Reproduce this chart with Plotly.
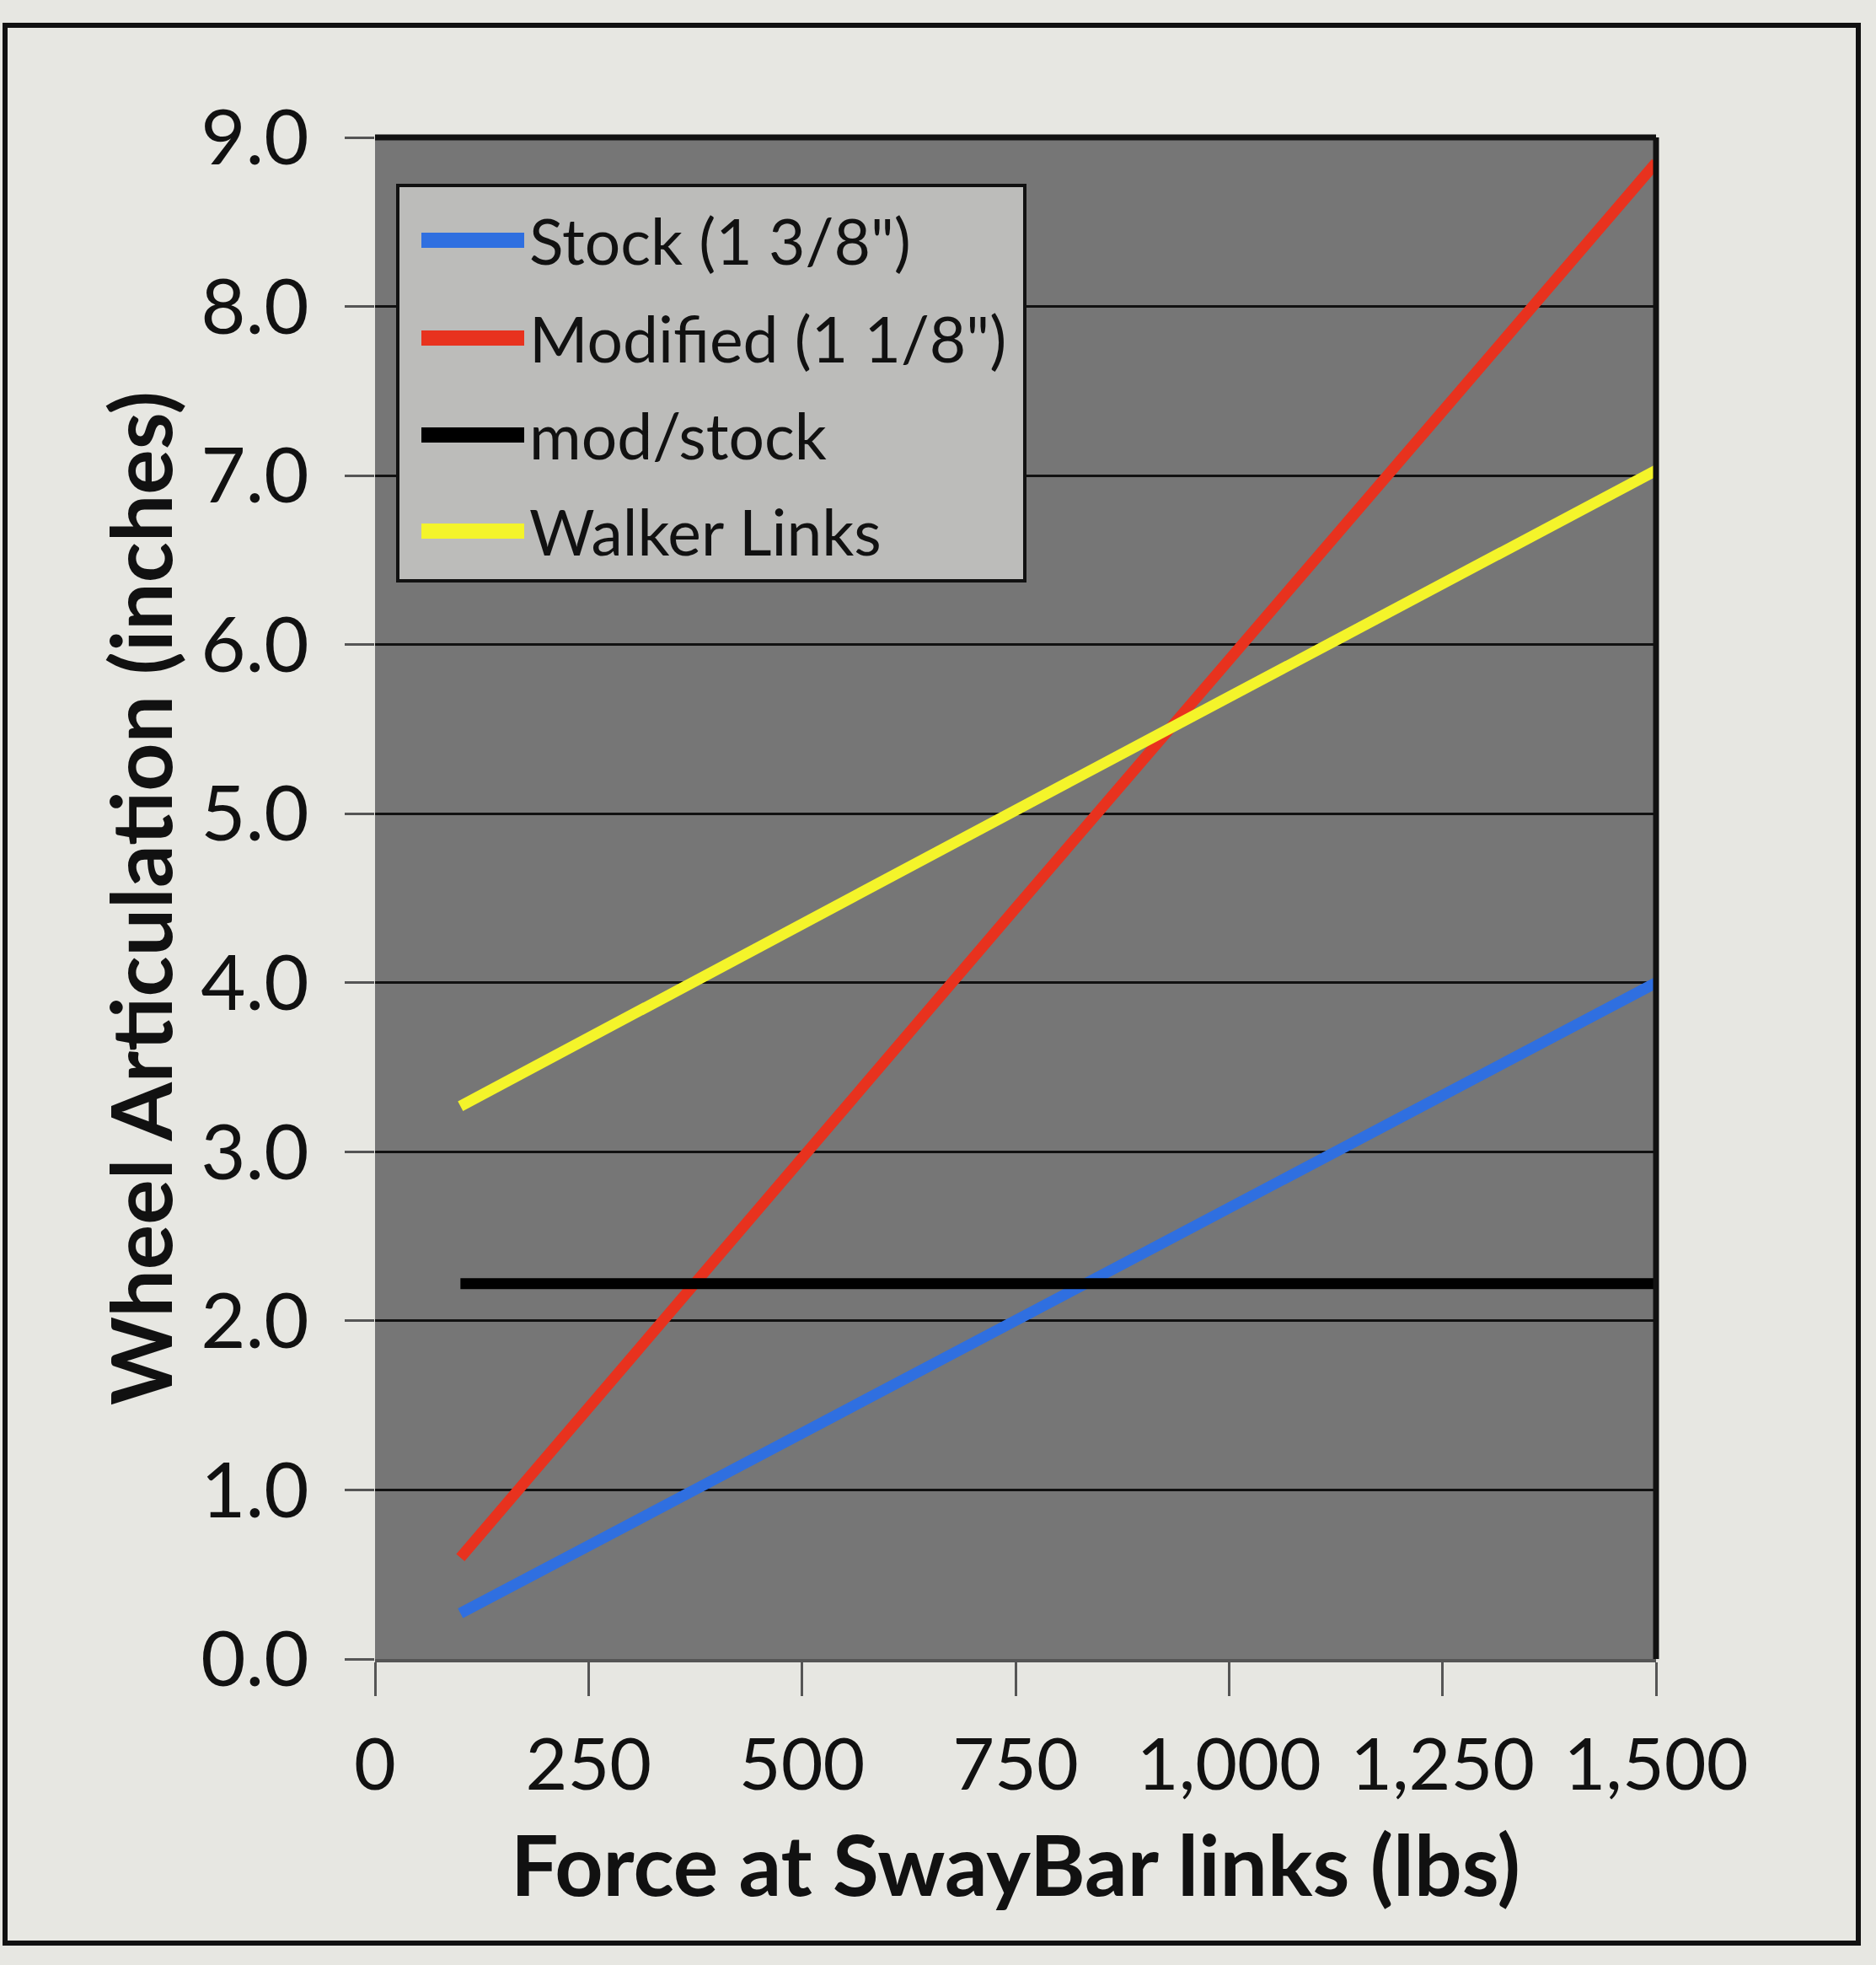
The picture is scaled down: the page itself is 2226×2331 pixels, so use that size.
import plotly.graph_objects as go

force_lbs = [100, 250, 500, 750, 1000, 1250, 1500]
stock = [0.27, 0.67, 1.34, 2.01, 2.68, 3.34, 4.00]
modified = [0.60, 1.49, 2.96, 4.44, 5.91, 7.38, 8.85]
mod_stock = [2.22, 2.22, 2.22, 2.22, 2.22, 2.22, 2.22]
walker = [3.27, 3.67, 4.34, 5.02, 5.69, 6.36, 7.03]

series_names = ["Stock (1 3/8\")", "Modified (1 1/8\")", "mod/stock", "Walker Links"]
series_values = [stock, modified, mod_stock, walker]
series_colors = ["#2f6fe0", "#e8321e", "#000000", "#f4f42a"]

FONT = "Lato, 'Open Sans', sans-serif"
W, H = 2226, 2331
ML, MR, MT, MB = 445, 261, 163, 363
pw, ph = W - ML - MR, H - MT - MB


def px(xp):
    return (xp - ML) / pw


def py(yp):
    return (H - MB - yp) / ph


fig = go.Figure()
for name, vals, col in zip(series_names, series_values, series_colors):
    fig.add_trace(go.Scatter(x=force_lbs, y=vals, name=name, mode="lines",
                             line=dict(color=col, width=13), showlegend=False))

fig.update_layout(
    width=W, height=H,
    margin=dict(l=ML, r=MR, t=MT, b=MB),
    paper_bgcolor="#e7e7e2",
    plot_bgcolor="#767676",
    font=dict(family=FONT, color="#111111"),
    showlegend=False,
    xaxis=dict(range=[0, 1500], dtick=250, tickformat=",",
               showgrid=False, zeroline=False,
               ticks="outside", ticklen=40, tickwidth=3, tickcolor="#555555",
               showline=True, linecolor="#555555", linewidth=4,
               tickfont=dict(size=86, family=FONT, color="#111111"),
               ticklabelstandoff=8,
               title=dict(text="<b>Force at SwayBar links (lbs)</b>",
                          font=dict(size=100, family=FONT, color="#111111"),
                          standoff=40)),
    yaxis=dict(range=[0, 9], dtick=1, tickformat=".1f",
               showgrid=True, gridcolor="#111111", gridwidth=3,
               zeroline=False,
               ticks="outside", ticklen=35, tickwidth=3, tickcolor="#555555",
               showline=False,
               tickfont=dict(size=92, family=FONT, color="#111111"),
               ticklabelstandoff=24,
               title=dict(text="<b>Wheel Articulation (inches)</b>",
                          font=dict(size=100, family=FONT, color="#111111"),
                          standoff=0)),
)

# plot-area black border on top and right
fig.add_shape(type="line", xref="paper", yref="paper", x0=0, x1=1, y0=1, y1=1,
              line=dict(color="#111111", width=7))
fig.add_shape(type="line", xref="paper", yref="paper", x0=1, x1=1, y0=0, y1=1,
              line=dict(color="#111111", width=7))

# outer chart frame
fig.add_shape(type="rect", xref="paper", yref="paper",
              x0=px(6), x1=px(2205), y0=py(2305), y1=py(30),
              line=dict(color="#111111", width=6), layer="below")

# legend box (drawn to match the long, thick swatches of the original)
fig.add_shape(type="rect", xref="paper", yref="paper",
              x0=px(472), x1=px(1216), y0=py(689), y1=py(220),
              fillcolor="#bcbcba", line=dict(color="#111111", width=4))
entry_y = [285, 401, 516, 630]
for name, col, yy in zip(series_names, series_colors, entry_y):
    fig.add_shape(type="line", xref="paper", yref="paper",
                  x0=px(500), x1=px(622), y0=py(yy), y1=py(yy),
                  line=dict(color=col, width=18))
    fig.add_annotation(xref="paper", yref="paper", x=px(626), y=py(yy),
                       text=name, showarrow=False, xanchor="left", yanchor="middle",
                       font=dict(size=75, family=FONT, color="#111111"))

fig.write_html("out.html")
